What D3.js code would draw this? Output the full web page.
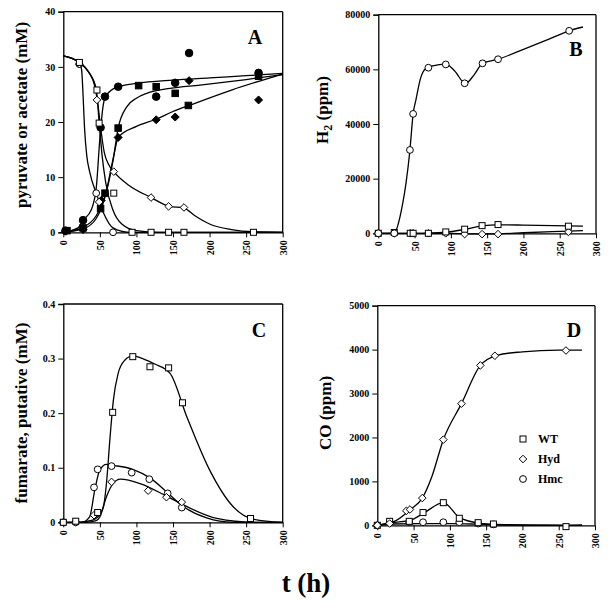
<!DOCTYPE html>
<html><head><meta charset="utf-8">
<script src="https://cdn.jsdelivr.net/npm/d3@7"></script>
<style>body{margin:0;background:#fff}svg{display:block}text{font-family:"Liberation Serif","Times New Roman",serif;font-weight:bold;fill:#000}</style>
</head><body><div id="chart"></div>
<script>
const timeTicks=[0,50,100,150,200,250,300];
const aTicksY=[0,10,20,30,40];
const bTicksY=[0,20000,40000,60000,80000];
const cTicksY=[0,0.1,0.2,0.3,0.4];
const dTicksY=[0,1000,2000,3000,4000,5000];
const legendLabels=["WT","Hyd","Hmc"];

// Panel A markers: pyruvate (open) and acetate (filled)
const aPyrWT=[[22,30.8],[46,25.8],[49,19.8],[69,7.1],[94,0],[120,0],[144,0],[165,0],[260,0]];
const aPyrHyd=[[22,30.5],[46,24],[49,5.5],[69,11],[120,6.3],[144,4.7],[165,4.5]];
const aPyrHmc=[[22,30.5],[45,7.1],[68,0]];
const aAceWT=[[5,0.3],[27,0.8],[51,4.3],[57,7.1],[75,18.9],[103,26.6],[127,26.4],[153,25.2],[171,23],[267,28.3]];
const aAceHyd=[[3,0.2],[27,0.5],[52,5.8],[75,17.2],[127,20.4],[153,20.9],[172,27.5],[267,24]];
const aAceHmc=[[3,0.3],[27,2.2],[51,19],[57,24.6],[75,26.4],[127,24.6],[153,27.1],[172,32.5],[267,28.9]];
// Panel A fitted curves
const aFitPyrWT=[[0,32],[22,30.8],[35,29],[45,26],[49,20],[53,14],[58,9],[68,4],[80,1.5],[100,0.3],[130,0],[300,0]];
const aFitPyrHyd=[[0,32],[22,30.8],[35,29],[43,26.5],[47,23.5],[51,19],[56,14.5],[62,12.3],[69,11],[90,8.5],[120,6.3],[145,4.7],[165,4.4],[180,3],[200,1.5],[230,0.5],[260,0.1],[300,0]];
const aFitPyrHmc=[[0,32],[22,30.8],[25,29.5],[27,25],[29,19],[32,14],[36,11],[45,7.1],[55,3.5],[68,0.8],[90,0],[300,0]];
const aFitAceWT=[[0,0],[27,0.6],[45,2.5],[55,5.5],[62,9],[68,13],[75,18.9],[87,22.8],[100,24.3],[114,25.2],[146,26.1],[187,26.7],[250,27.7],[300,28.6]];
const aFitAceHyd=[[0,0],[27,0.9],[45,3],[51,4.5],[58,7],[64,10.7],[70,14.5],[75,17.2],[100,19.2],[127,20.5],[150,21.9],[172,23],[230,25.8],[300,28.7]];
const aFitAceHmc=[[0,0],[20,0.8],[27,2.2],[38,4],[45,8],[50,17],[54,22.5],[57,24.4],[65,25.7],[75,26.4],[100,27],[150,27.6],[200,28],[250,28.4],[300,28.8]];

// Panel B (H2, ppm)
const bWT=[[0,0],[22,300],[44,0],[48,0],[69,0],[93,500],[119,1500],[143,2800],[165,3200],[262,2600]];
const bHyd=[[0,0],[22,0],[44,0],[48,0],[69,0],[93,0],[119,-300],[143,-300],[165,-300],[262,500]];
const bHmc=[[0,0],[22,0],[43.6,30500],[48,43700],[69,60600],[93,61800],[119,54900],[143.6,62200],[165,63700],[263,74100]];
const bFitWT=[[0,0],[60,0],[90,300],[119,1400],[143,2700],[165,3100],[200,3000],[282,2600]];
const bFitHyd=[[0,0],[100,0],[130,-200],[165,-200],[200,200],[262,800],[282,1000]];
const bFitHmc=[[0,0],[22,0],[27,3000],[33,10000],[38,18000],[43.6,30500],[48,43700],[52,49000],[58,56500],[65,60200],[75,61300],[93,61900],[105,59500],[120,54800],[132,58000],[143.6,62200],[165,63700],[200,67300],[230,70500],[263,74100],[282,75500]];

// Panel C (fumarate, mM)
const cWT=[[0,0],[17,0.002],[47,0.018],[67.5,0.2015],[95,0.3035],[118.5,0.285],[144,0.283],[163,0.219],[256,0.007]];
const cHyd=[[0,0],[17,0],[42,0.013],[66,0.074],[116,0.058],[141,0.046],[162,0.037]];
const cHmc=[[0,0],[17,0],[42,0.064],[47,0.097],[66,0.103],[93.5,0.091],[117.6,0.079],[142.7,0.053],[162,0.027]];
const cFitWT=[[0,0],[20,0],[40,0.004],[50,0.015],[55,0.029],[59,0.071],[64,0.157],[68.4,0.223],[75,0.273],[84,0.297],[95,0.305],[110,0.299],[125,0.29],[146,0.273],[169,0.193],[200,0.096],[232,0.029],[259,0.006],[300,0]];
const cFitHyd=[[0,0],[30,0],[45,0.003],[50,0.01],[59,0.047],[68,0.071],[78,0.079],[105,0.071],[141,0.048],[164,0.032],[210,0.007],[260,0],[300,0]];
const cFitHmc=[[0,0],[25,0],[36,0.01],[43,0.059],[50,0.096],[59,0.106],[70,0.104],[95,0.097],[120,0.08],[141,0.056],[164,0.029],[196,0.008],[232,0],[300,0]];

// Panel D (CO, ppm)
const dWT=[[0,0],[17,90],[44,90],[63,290],[91,515],[113,160],[139,60],[160,30],[260,-30]];
const dHyd=[[0,0],[17,40],[40,330],[45,360],[62,620],[91,1950],[116,2770],[142,3640],[162,3860],[260,3980]];
const dHmc=[[0,0],[17,70],[44,70],[63,70],[91,70],[113,70],[139,40],[160,20]];
const dFitWT=[[0,0],[20,60],[45,110],[65,290],[91,515],[113,180],[140,50],[165,20],[260,0],[282,10]];
const dFitHyd=[[0,0],[25,100],[45,350],[62,620],[75,1100],[91,1950],[116,2770],[142,3640],[165,3870],[200,3950],[250,3990],[282,3990]];
const dFitHmc=[[0,0],[20,30],[60,40],[100,40],[140,25],[180,5],[282,0]];

const svg=d3.select("#chart").append("svg").attr("width",609).attr("height",602);

function marker(g,data,x,y,shape,filled){
  const sel=g.selectAll(null).data(data).enter();
  const fill=filled?"#000":"#fff";
  if(shape==="square"){
    const s=filled?6.5:6;
    sel.append("rect").attr("x",d=>x(d[0])-s/2).attr("y",d=>y(d[1])-s/2).attr("width",s).attr("height",s)
      .attr("fill",fill).attr("stroke","#000").attr("stroke-width",1);
  }else if(shape==="circle"){
    sel.append("circle").attr("cx",d=>x(d[0])).attr("cy",d=>y(d[1])).attr("r",filled?3.8:3.4)
      .attr("fill",fill).attr("stroke","#000").attr("stroke-width",1);
  }else{
    const r=filled?4:3.8;
    sel.append("path").attr("d",d=>{const cx=x(d[0]),cy=y(d[1]);return `M${cx},${cy-r}L${cx+r},${cy}L${cx},${cy+r}L${cx-r},${cy}Z`;})
      .attr("fill",fill).attr("stroke","#000").attr("stroke-width",1);
  }
}
function curve(g,data,x,y){
  const line=d3.line().x(d=>x(d[0])).y(d=>y(d[1])).curve(d3.curveMonotoneX);
  g.append("path").datum(data).attr("d",line).attr("fill","none").attr("stroke","#000").attr("stroke-width",1.3);
}
function panel(cfg){
  const x=d3.scaleLinear().domain([0,300]).range(cfg.xr);
  const y=d3.scaleLinear().domain(cfg.yd).range(cfg.yr);
  const g=svg.append("g");
  // frame
  g.append("line").attr("x1",cfg.xr[0]).attr("x2",cfg.xr[1]).attr("y1",cfg.yr[1]).attr("y2",cfg.yr[1]).attr("stroke","#000").attr("stroke-width",1.3);
  g.append("line").attr("x1",cfg.xr[1]).attr("x2",cfg.xr[1]).attr("y1",cfg.yr[0]).attr("y2",cfg.yr[1]).attr("stroke","#000").attr("stroke-width",1.3);
  const ya=g.append("g").attr("transform",`translate(${cfg.xr[0]},0)`)
    .call(d3.axisLeft(y).tickValues(cfg.yt).tickSize(5).tickPadding(3).tickFormat(cfg.fmt||(d=>d)));
  ya.selectAll("text").style("font-size","10px").style("font-family",'"Liberation Serif",serif').style("font-weight","bold");
  ya.select(".domain").attr("stroke-width",1.3);
  const xa=g.append("g").attr("transform",`translate(0,${cfg.yr[0]})`)
    .call(d3.axisBottom(x).tickValues(timeTicks).tickSize(5).tickSizeOuter(0).tickFormat(d=>d));
  xa.select(".domain").attr("stroke-width",1.3);
  xa.selectAll("text").attr("transform","rotate(-90)").attr("text-anchor","end").attr("x",-8).attr("y",0).attr("dy","0.35em")
    .style("font-size","10px").style("font-family",'"Liberation Serif",serif').style("font-weight","bold");
  // panel letter
  g.append("text").attr("x",cfg.lx).attr("y",cfg.ly).attr("text-anchor","middle").style("font-size","20px").text(cfg.letter);
  return {g,x,y};
}

// Panel A
let p=panel({xr:[63.3,282.7],yr:[232.3,11.7],yd:[0,40],yt:aTicksY,letter:"A",lx:255,ly:44});
[aFitPyrWT,aFitPyrHyd,aFitPyrHmc,aFitAceWT,aFitAceHyd,aFitAceHmc].forEach(d=>curve(p.g,d,p.x,p.y));
marker(p.g,aAceWT,p.x,p.y,"square",true);
marker(p.g,aAceHyd,p.x,p.y,"diamond",true);
marker(p.g,aAceHmc,p.x,p.y,"circle",true);
marker(p.g,aPyrHmc,p.x,p.y,"circle",false);
marker(p.g,aPyrHyd,p.x,p.y,"diamond",false);
marker(p.g,aPyrWT,p.x,p.y,"square",false);

// Panel B
p=panel({xr:[378.3,596],yr:[233.3,14.7],yd:[0,80000],yt:bTicksY,letter:"B",lx:576,ly:56});
[bFitWT,bFitHyd,bFitHmc].forEach(d=>curve(p.g,d,p.x,p.y));
marker(p.g,bHyd,p.x,p.y,"diamond",false);
marker(p.g,bWT,p.x,p.y,"square",false);
marker(p.g,bHmc,p.x,p.y,"circle",false);

// Panel C
p=panel({xr:[63.3,282.7],yr:[522.3,304],yd:[0,0.4],yt:cTicksY,letter:"C",lx:259,ly:337,fmt:d=>d===0?"0":d.toFixed(1)});
[cFitWT,cFitHyd,cFitHmc].forEach(d=>curve(p.g,d,p.x,p.y));
marker(p.g,cHmc,p.x,p.y,"circle",false);
marker(p.g,cHyd,p.x,p.y,"diamond",false);
marker(p.g,cWT,p.x,p.y,"square",false);

// Panel D
p=panel({xr:[377.3,595],yr:[525.3,305.7],yd:[0,5000],yt:dTicksY,letter:"D",lx:574,ly:337});
[dFitWT,dFitHyd,dFitHmc].forEach(d=>curve(p.g,d,p.x,p.y));
marker(p.g,dHmc,p.x,p.y,"circle",false);
marker(p.g,dWT,p.x,p.y,"square",false);
marker(p.g,dHyd,p.x,p.y,"diamond",false);

// Legend in D
const legShapes=["square","diamond","circle"];
const lg=svg.append("g");
legendLabels.forEach((lab,i)=>{
  const cy=439+i*20, cx=523;
  marker(lg,[[cx,cy]],d=>d,d=>d,legShapes[i],false);
  lg.append("text").attr("x",538).attr("y",cy).attr("dy","0.35em").style("font-size","12px").text(lab);
});

// Axis titles
svg.append("text").attr("transform","translate(27,115) rotate(-90)").attr("text-anchor","middle").style("font-size","17px").text("pyruvate or acetate (mM)");
const h2=svg.append("text").attr("transform","translate(328,110) rotate(-90)").attr("text-anchor","middle").style("font-size","17px");
h2.append("tspan").text("H");
h2.append("tspan").attr("dy",4).style("font-size","12px").text("2");
h2.append("tspan").attr("dy",-4).text(" (ppm)");
svg.append("text").attr("transform","translate(27,413) rotate(-90)").attr("text-anchor","middle").style("font-size","17px").text("fumarate, putative (mM)");
svg.append("text").attr("transform","translate(331,413) rotate(-90)").attr("text-anchor","middle").style("font-size","17px").text("CO (ppm)");
svg.append("text").attr("x",306).attr("y",592).attr("text-anchor","middle").style("font-size","27px").text("t (h)");
</script></body></html>
